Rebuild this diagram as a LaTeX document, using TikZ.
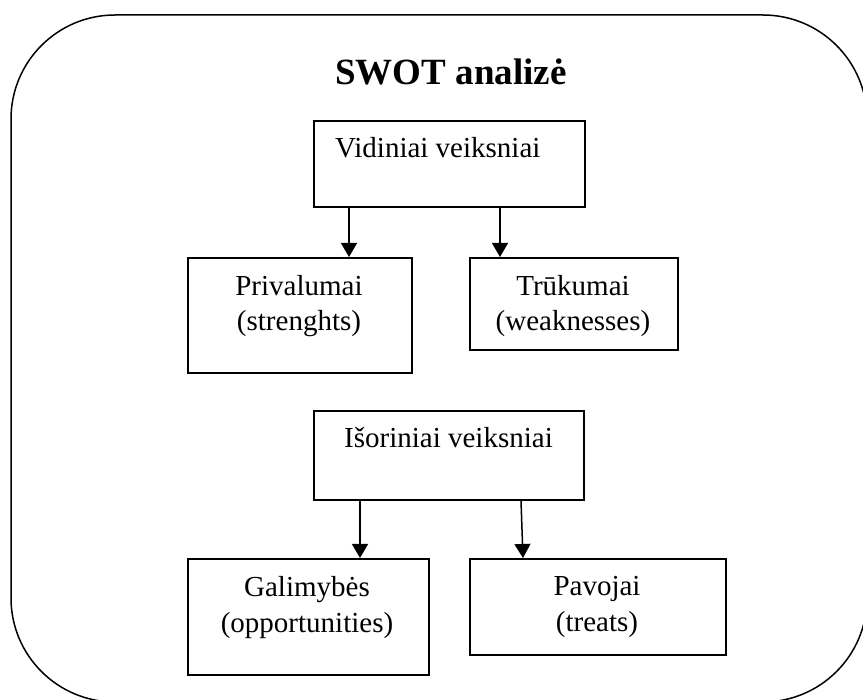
\documentclass[tikz,border=0pt]{standalone}
\usepackage{fontspec}
\setmainfont{Liberation Serif}
\usetikzlibrary{arrows.meta,calc}
\begin{document}
\begin{tikzpicture}[x=1pt,y=-1pt,
  box/.style={draw,line width=1.8pt,rectangle,inner sep=0pt,anchor=north west},
  lbl/.style={inner sep=0pt,anchor=base,font=\fontsize{29}{35}\selectfont},
  arr/.style={line width=1.5pt,-{Triangle[width=16pt,length=14pt]}}]
\useasboundingbox (0,0) rectangle (863,700);
% outer frame
\draw[line width=1.5pt,rounded corners=104pt] (11,15) rectangle (867,702);
% title
\node[inner sep=0pt,anchor=base,font=\bfseries\fontsize{37}{43}\selectfont] (title) at (451,85) {SWOT analizė};
% boxes
\node[box,minimum width=271pt,minimum height=86pt] (vid) at (313,120) {};
\node[box,minimum width=224pt,minimum height=115pt] (priv) at (187,257) {};
\node[box,minimum width=208pt,minimum height=92pt] (truk) at (469,257) {};
\node[box,minimum width=270pt,minimum height=89pt] (isor) at (313,410) {};
\node[box,minimum width=241pt,minimum height=116pt] (gal) at (187,558) {};
\node[box,minimum width=256pt,minimum height=96pt] (pav) at (469,558) {};
% labels
\node[lbl,anchor=base west] (tvid) at (335,158) {Vidiniai veiksniai};
\node[lbl] (tpriv) at (299,296) {Privalumai};
\node[lbl] (tpriv2) at (299,331) {(strenghts)};
\node[lbl] (ttruk) at (573,296) {Trūkumai};
\node[lbl] (ttruk2) at (573,331) {(weaknesses)};
\node[lbl,anchor=base west] (tisor) at (344,448) {Išoriniai veiksniai};
\node[lbl] (tgal) at (307,597) {Galimybės};
\node[lbl] (tgal2) at (307,632) {(opportunities)};
\node[lbl] (tpav) at (597,596) {Pavojai};
\node[lbl] (tpav2) at (597,631) {(treats)};
% connectors
\draw[arr] ($(vid.south west)+(36,0)$) -- ($(priv.north west)+(162,0)$);
\draw[arr] ($(vid.south west)+(187,0)$) -- ($(truk.north west)+(31,0)$);
\draw[arr] ($(isor.south west)+(47,0)$) -- ($(gal.north west)+(173,0)$);
\draw[arr] ($(isor.south west)+(208,0)$) -- ($(pav.north west)+(54,0)$);
\end{tikzpicture}
\end{document}
